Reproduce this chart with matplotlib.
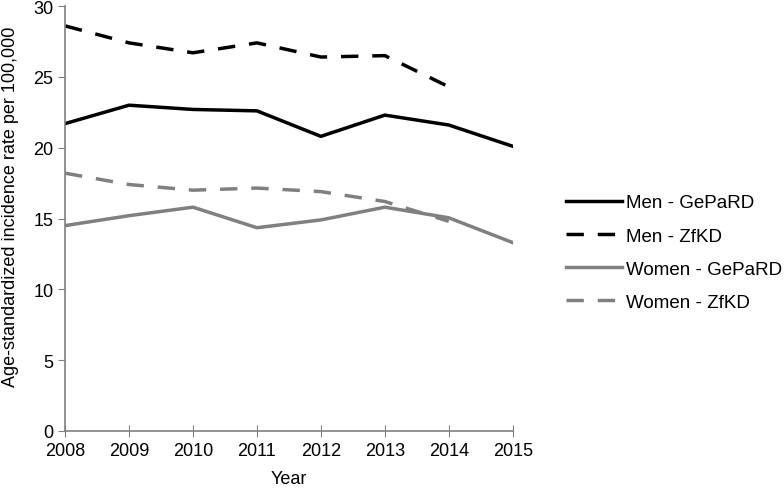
import matplotlib
matplotlib.use("Agg")
from matplotlib import pyplot as plt

plt.rcParams['font.family'] = ['Liberation Sans', 'DejaVu Sans']

years = [2008, 2009, 2010, 2011, 2012, 2013, 2014, 2015]
years_zfkd = [2008, 2009, 2010, 2011, 2012, 2013, 2014]

men_gepard = [21.7, 23.0, 22.7, 22.6, 20.8, 22.3, 21.6, 20.1]
men_zfkd = [28.6, 27.4, 26.7, 27.4, 26.4, 26.5, 24.3]
women_gepard = [14.5, 15.2, 15.8, 14.35, 14.9, 15.8, 15.05, 13.3]
women_zfkd = [18.2, 17.4, 17.0, 17.15, 16.9, 16.2, 14.8]

grey = '#808080'

fig = plt.figure(figsize=(7.84, 4.89), dpi=100)
ax = fig.add_axes([0.083, 0.1166, 0.571, 0.869])

lw = 2.5
dash = (5, 4)
ax.plot(years, men_gepard, color='black', lw=lw, label='Men - GePaRD')
ax.plot(years_zfkd, men_zfkd, color='black', lw=lw, dashes=dash, label='Men - ZfKD')
ax.plot(years, women_gepard, color=grey, lw=lw, label='Women - GePaRD')
ax.plot(years_zfkd, women_zfkd, color=grey, lw=lw, dashes=dash, label='Women - ZfKD')

ax.set_xlim(2008, 2015)
ax.set_ylim(0, 30)
ax.set_xticks(years)
ax.set_yticks(range(0, 31, 5))
ax.tick_params(labelsize=13, color=grey, length=5, direction='out')
ax.tick_params(axis='x', direction='inout', length=8, pad=4)
for s in ['top', 'right']:
    ax.spines[s].set_visible(False)
for s in ['left', 'bottom']:
    ax.spines[s].set_color(grey)
    ax.spines[s].set_linewidth(1.2)

ax.set_xlabel('Year', fontsize=13, labelpad=8)
ax.set_ylabel('Age-standardized incidence rate per 100,000', fontsize=13)
ax.yaxis.set_label_coords(-0.103, 0.53)

leg = ax.legend(loc='center left', bbox_to_anchor=(1.081, 0.42), frameon=False,
                fontsize=13.5, handlelength=3.0, labelspacing=0.85, handletextpad=0.2)

plt.savefig('out.png', dpi=100)
